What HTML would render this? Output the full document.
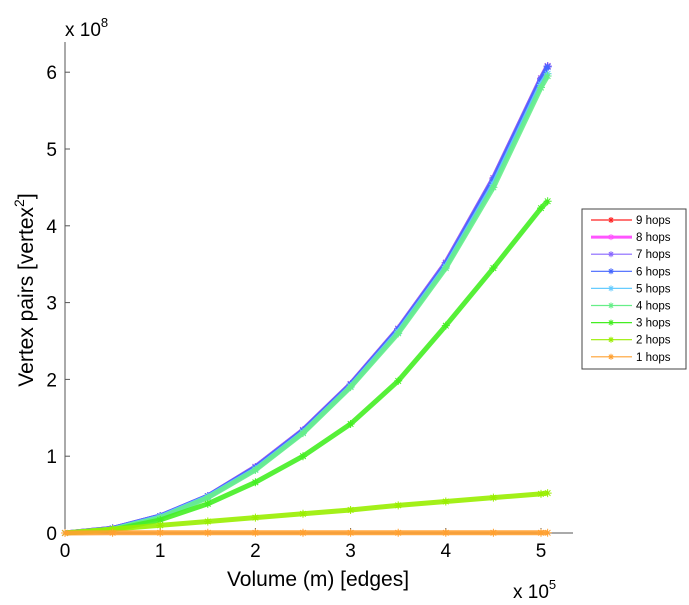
<!DOCTYPE html>
<html><head><meta charset="utf-8"><style>
body{margin:0;background:#fff;font-family:"Liberation Sans",sans-serif}
svg text{font-family:"Liberation Sans",sans-serif;fill:#000}
</style></head><body>
<svg id="chart" width="689" height="600" xmlns="http://www.w3.org/2000/svg">
<g id="axes"></g>
<g id="series"></g>
<text x="65" y="36" font-size="19">x 10<tspan dy="-9" font-size="13">8</tspan></text>
<text transform="translate(33,290) rotate(-90)" text-anchor="middle" font-size="21">Vertex pairs [vertex<tspan dy="-9" font-size="14">2</tspan><tspan dy="9">]</tspan></text>
<text x="318" y="586" text-anchor="middle" font-size="21">Volume (m) [edges]</text>
<text x="513" y="598" font-size="19">x 10<tspan dy="-9" font-size="13">5</tspan></text>
<g id="legend"></g>
</svg>
<script>
const xVals=[0,0.5,1,1.5,2,2.5,3,3.5,4,4.5,5,5.07];
const hops9=[0,0.06,0.22,0.48,0.86,1.34,1.94,2.66,3.52,4.62,5.92,6.08];
const hops8=[0,0.06,0.22,0.48,0.86,1.34,1.94,2.66,3.52,4.62,5.92,6.08];
const hops7=[0,0.06,0.22,0.48,0.86,1.34,1.94,2.66,3.52,4.62,5.92,6.08];
const hops6=[0,0.06,0.22,0.48,0.85,1.33,1.93,2.65,3.5,4.6,5.9,6.07];
const hops5=[0,0.05,0.21,0.47,0.83,1.31,1.91,2.62,3.47,4.54,5.84,5.98];
const hops4=[0,0.05,0.2,0.46,0.82,1.3,1.9,2.6,3.45,4.5,5.8,5.95];
const hops3=[0,0.04,0.17,0.38,0.66,1.0,1.42,1.98,2.7,3.45,4.23,4.32];
const hops2=[0,0.05,0.1,0.15,0.2,0.25,0.3,0.36,0.41,0.46,0.51,0.52];
const hops1=[0,0.003,0.003,0.003,0.003,0.003,0.003,0.003,0.003,0.003,0.003,0.003];
const seriesNames=["9 hops","8 hops","7 hops","6 hops","5 hops","4 hops","3 hops","2 hops","1 hops"];
const seriesData=[hops9,hops8,hops7,hops6,hops5,hops4,hops3,hops2,hops1];
const colors=["#ff2020","#ff55ff","#8866ff","#4466ff","#66ccff","#66ee88","#44ee22","#99ee00","#ffa030"];
const xTicks=[0,1,2,3,4,5];
const yTicks=[0,1,2,3,4,5,6];
const NS="http://www.w3.org/2000/svg";
const X=v=>65+v*95.2, Y=v=>533-v*76.8;
function mk(tag,attrs,parent){const e=document.createElementNS(NS,tag);for(const k in attrs)e.setAttribute(k,attrs[k]);parent.appendChild(e);return e;}
const ax=document.getElementById('axes');
let l=mk('line',{x1:65,y1:42,x2:65,y2:533,stroke:'#555','stroke-width':1},ax);


l=mk('line',{x1:65,y1:533,x2:573,y2:533,stroke:'#555','stroke-width':1},ax);


xTicks.forEach(t=>{
 mk('line',{x1:X(t),y1:533,x2:X(t),y2:528,stroke:'#555'},ax);
 const tx=mk('text',{x:X(t),y:557,'text-anchor':'middle','font-size':19},ax);tx.textContent=t;
 
 
});
yTicks.forEach(t=>{
 mk('line',{x1:65,y1:Y(t),x2:70,y2:Y(t),stroke:'#555'},ax);
 const tx=mk('text',{x:57,y:Y(t)+7,'text-anchor':'end','font-size':19},ax);tx.textContent=t;
 
 
});
function star(g,cx,cy,c,r){
 const d=`M${cx-r},${cy}H${cx+r}M${cx},${cy-r}V${cy+r}M${cx-r*.7},${cy-r*.7}L${cx+r*.7},${cy+r*.7}M${cx-r*.7},${cy+r*.7}L${cx+r*.7},${cy-r*.7}`;
 mk('path',{d:d,stroke:c,'stroke-width':1,fill:'none'},g);
}
const sg=document.getElementById('series');
for(let i=0;i<seriesData.length;i++){
 const g=mk('g',{},sg);
 
 
 const pts=xVals.map((x,j)=>X(x)+','+Y(seriesData[i][j])).join(' ');
 mk('polyline',{points:pts,fill:'none',stroke:colors[i],'stroke-width':5,'stroke-linejoin':'round','stroke-opacity':0.9},g);
 xVals.forEach((x,j)=>star(g,X(x),Y(seriesData[i][j]),colors[i],4));
}
const lg=document.getElementById('legend');
mk('rect',{x:582,y:209,width:104,height:160,fill:'#fff',stroke:'#444','stroke-width':1},lg);
seriesNames.forEach((n,i)=>{
 const y=220+i*17.1;
 const g=mk('g',{},lg);
 
 
 mk('line',{x1:591,y1:y,x2:632,y2:y,stroke:colors[i],'stroke-width':i==1?3:1.2},g);
 star(g,611,y,colors[i],3);
 const t=mk('text',{x:636,y:y+4,'font-size':11.5},g);t.textContent=n;
});
</script>
</body></html>
